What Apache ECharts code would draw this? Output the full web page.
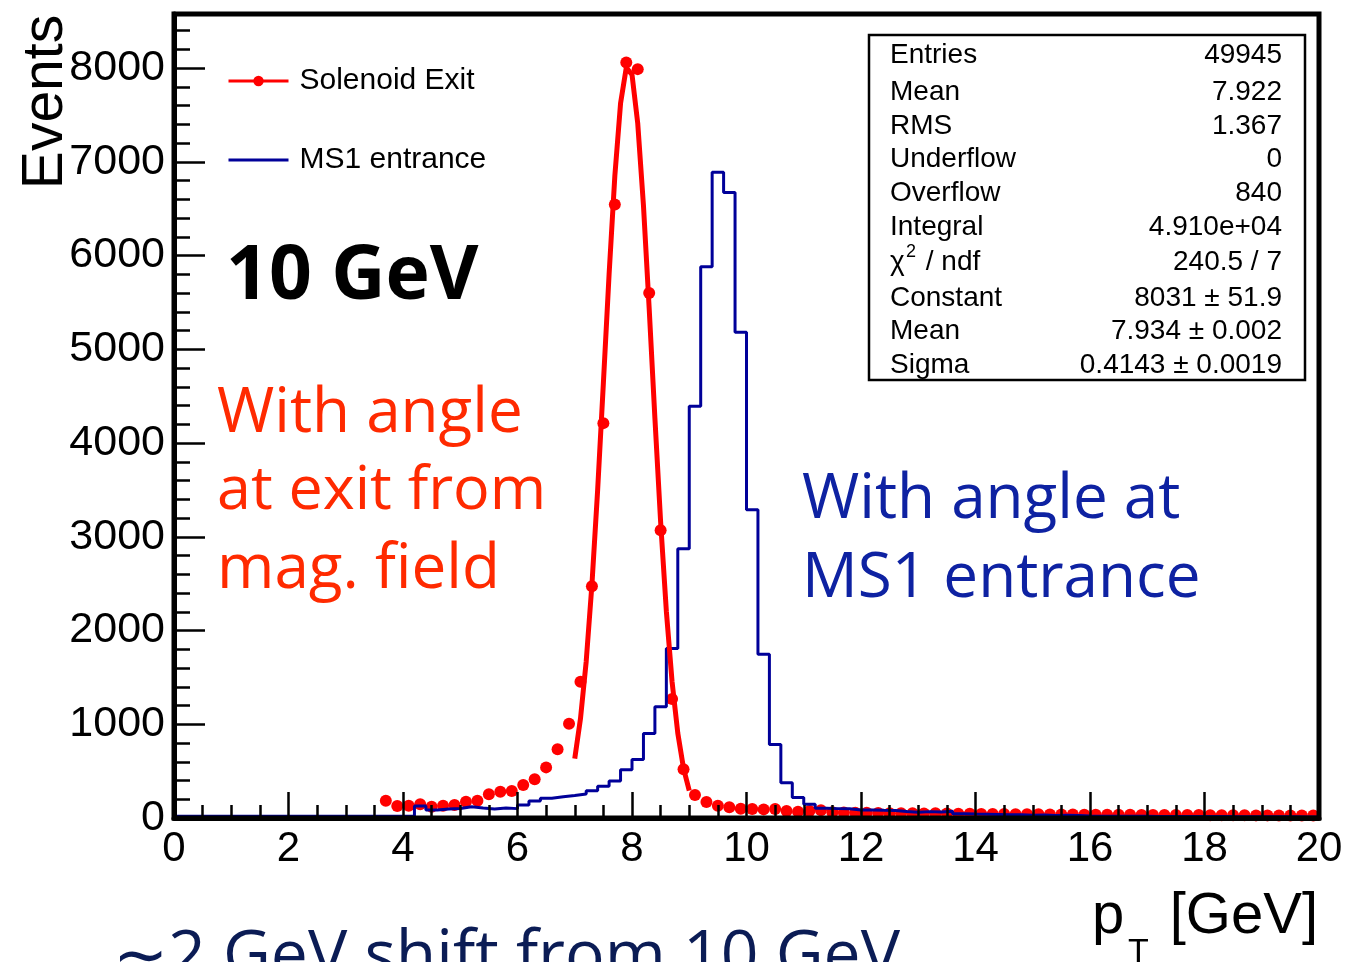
<!DOCTYPE html>
<html><head><meta charset="utf-8">
<script src="https://cdn.jsdelivr.net/npm/echarts@6/dist/echarts.min.js"></script>
<style>html,body{margin:0;padding:0;background:#fff;overflow:hidden}#c{width:1350px;height:962px}</style>
</head><body><div id="c"></div><script>
// ---------------- data ----------------
const binWidth = 0.2;          // GeV
const histMin = 0;             // first bin low edge
// MS1 entrance histogram: counts per 0.2 GeV bin, 0..20 GeV (100 bins)
const ms1Counts = [
  18,18,18,18,18,18,18,18,18,18,   // 0.0-2.0
  18,18,18,18,18,18,18,18,18,18,   // 2.0-4.0
  18,128,85,96,101,120,107,96,107,100, // 4.0-6.0
  139,181,210,227,240,255,290,340,395,515, // 6.0-8.0
  625,902,1186,1808,2873,4393,5879,6887,6673,5182, // 8.0-10.0
  3289,1747,785,376,220,146,105,100,98,85, // 10.0-12.0
  85,82,80,70,62,68,65,72,45,42,   // 12.0-14.0
  40,38,35,35,30,32,28,30,28,22,   // 14.0-16.0
  20,20,18,18,18,17,17,16,16,15,   // 16.0-18.0
  15,15,14,14,14,13,13,13,12,12    // 18.0-20.0
];
// Solenoid exit: data points at bin centres starting at 3.7 GeV
const exitFirstCenter = 3.7;
const exitCounts = [
  184,128,131,146,120,131,139,174,184,253,   // 3.7-5.5
  280,288,352,413,540,733,1005,1453,2472,4212, // 5.7-7.5
  6545,8059,7988,5600,3069,1270,519,245,170,130, // 7.7-9.5
  115,98,95,92,95,75,68,75,82,62,   // 9.7-11.5
  58,56,55,53,52,50,50,48,50,47,    // 11.7-13.5
  45,46,44,42,43,41,40,40,38,38,    // 13.7-15.5
  37,36,36,35,34,34,33,33,32,32,    // 15.7-17.5
  31,31,30,30,29,29,28,28,27,27,    // 17.7-19.5
  26,26                             // 19.7-19.9
];
// Gaussian fit curve, 7.0..9.0 GeV every 0.1
const fitStart = 7.0, fitStep = 0.1;
const fitValues = [633,1059,1670,2490,3499,4639,5802,6847,7622,8004,7930,
                   7411,6535,5437,4265,3159,2206,1454,904,530,293];
const xTickLabels = ['0','2','4','6','8','10','12','14','16','18','20'];
const yTickLabels = ['0','1000','2000','3000','4000','5000','6000','7000','8000'];
const statsLabels = ['Entries','Mean','RMS','Underflow','Overflow','Integral','χ2 / ndf','Constant','Mean','Sigma'];
const statsValues = ['49945','7.922','1.367','0','840','4.910e+04','240.5 / 7','8031 ± 51.9','7.934 ± 0.002','0.4143 ± 0.0019'];

// ---------------- build ----------------
const HELV = '"Liberation Sans", Arial, Helvetica, sans-serif';
const HUM = '"Open Sans", "Noto Sans", sans-serif';
const histData = ms1Counts.map((v, i) => [+(histMin + i * binWidth).toFixed(2), v]);
histData.push([+(histMin + ms1Counts.length * binWidth).toFixed(2), ms1Counts[ms1Counts.length - 1]]);
const exitData = exitCounts.map((v, i) => [+(exitFirstCenter + i * binWidth).toFixed(2), v]);
const fitData = fitValues.map((v, i) => [+(fitStart + i * fitStep).toFixed(2), v]);

const chart = echarts.init(document.getElementById('c'), null, {renderer: 'canvas'});
const isMajorX = v => xTickLabels.indexOf(String(Math.round(v * 1000) / 1000)) >= 0;
const isMajorY = v => yTickLabels.indexOf(String(Math.round(v))) >= 0 && Math.abs(v - Math.round(v)) < 1e-6;

const statsRowY = [55, 92, 126, 159, 193, 227, 262, 298, 331, 365];
const STATS_FONT = '28px ' + HELV;
const statsGraphics = [];
statsGraphics.push({type: 'rect', shape: {x: 869, y: 35, width: 436, height: 345}, style: {fill: '#fff', stroke: '#000', lineWidth: 2.5}, z: 20});
statsLabels.forEach((t, i) => {
  if (t.indexOf('χ2') === 0) {
    statsGraphics.push({type: 'text', x: 890, y: statsRowY[i], z: 21, style: {text: 'χ', font: STATS_FONT, fill: '#000', verticalAlign: 'middle', align: 'left'}});
    statsGraphics.push({type: 'text', x: 906, y: statsRowY[i] - 10, z: 21, style: {text: '2', font: '18px ' + HELV, fill: '#000', verticalAlign: 'middle', align: 'left'}});
    statsGraphics.push({type: 'text', x: 918, y: statsRowY[i], z: 21, style: {text: t.slice(2), font: STATS_FONT, fill: '#000', verticalAlign: 'middle', align: 'left'}});
  } else {
    statsGraphics.push({type: 'text', x: 890, y: statsRowY[i], z: 21, style: {text: t, font: STATS_FONT, fill: '#000', verticalAlign: 'middle', align: 'left'}});
  }
  statsGraphics.push({type: 'text', x: 1282, y: statsRowY[i], z: 21, style: {text: statsValues[i], font: STATS_FONT, fill: '#000', verticalAlign: 'middle', align: 'right'}});
});

const txt = (text, x, y, font, fill, align, extra) => Object.assign({type: 'text', x: x, y: y, z: 30,
  style: {text: text, font: font, fill: fill, align: align || 'left', verticalAlign: 'middle'}}, extra || {});

const RED_TXT = '#ff2a00', BLUE_TXT = '#0e22a2';
const graphics = statsGraphics.concat([
  txt('Events', 46, 102, '57px ' + HELV, '#000', 'center', {rotation: Math.PI / 2}),
  txt('p', 1092, 917, '58px ' + HELV, '#000', 'left'),
  txt('T', 1128, 953, '34px ' + HELV, '#000', 'left'),
  txt('[GeV]', 1318, 917, '58px ' + HELV, '#000', 'right'),
  txt('10 GeV', 226, 278, 'bold 75px ' + HUM, '#000', 'left'),
  txt('With angle', 217, 414, '62px ' + HUM, RED_TXT, 'left'),
  txt('at exit from', 217, 492, '61px ' + HUM, RED_TXT, 'left'),
  txt('mag. field', 217, 570, '62px ' + HUM, RED_TXT, 'left'),
  txt('With angle at', 802, 500, '62px ' + HUM, BLUE_TXT, 'left'),
  txt('MS1 entrance', 802, 579, '62px ' + HUM, BLUE_TXT, 'left'),
  txt('∼2 GeV shift from 10 GeV', 113, 958, '66px ' + HUM, '#0b1c55', 'left')
]);

const yMax = 8576;
const option = {
  animation: false,
  backgroundColor: '#fff',
  grid: {left: 174, right: 31, top: 14, bottom: 144, show: true, borderColor: '#000', borderWidth: 5, backgroundColor: 'transparent', z: 10},
  legend: {
    orient: 'vertical', left: 222, top: 61, itemWidth: 60, itemHeight: 13, itemGap: 49,
    selectedMode: false,
    data: [
      {name: 'Solenoid Exit', lineStyle: {opacity: 1, width: 3, color: '#ff0000'}, itemStyle: {color: '#ff0000'}},
      {name: 'MS1 entrance', itemStyle: {opacity: 0}, lineStyle: {width: 3, color: '#000099'}}
    ],
    textStyle: {fontSize: 30, color: '#000', fontFamily: HELV, padding: [0, 0, 0, 6]}
  },
  xAxis: [
    {type: 'value', min: 0, max: 20, interval: 0.5, position: 'bottom', z: 12,
     axisLine: {show: true, onZero: false, lineStyle: {color: '#000', width: 5}},
     axisTick: {show: true, inside: true, length: 13, lineStyle: {color: '#000', width: 2.5}},
     axisLabel: {fontSize: 42, color: '#000', fontFamily: HELV, margin: 10,
                 formatter: v => isMajorX(v) ? String(Math.round(v)) : ''},
     splitLine: {show: false}},
    {type: 'value', min: 0, max: 20, interval: 2, position: 'bottom', z: 12,
     axisLine: {show: false}, axisLabel: {show: false}, splitLine: {show: false},
     axisTick: {show: true, inside: true, length: 26, lineStyle: {color: '#000', width: 2.5}}}
  ],
  yAxis: [
    {type: 'value', min: 0, max: yMax, interval: 200, position: 'left', z: 12,
     axisLine: {show: true, onZero: false, lineStyle: {color: '#000', width: 5}},
     axisTick: {show: true, inside: true, length: 16, lineStyle: {color: '#000', width: 2.5}},
     axisLabel: {fontSize: 43, color: '#000', fontFamily: HELV, margin: 9, showMaxLabel: false,
                 formatter: v => (isMajorY(v) && v <= 8000) ? String(Math.round(v)) : ''},
     splitLine: {show: false}},
    {type: 'value', min: 0, max: yMax, interval: 1000, position: 'left', z: 12,
     axisLine: {show: false}, axisLabel: {show: false}, splitLine: {show: false},
     axisTick: {show: true, inside: true, length: 31, lineStyle: {color: '#000', width: 2.5}}}
  ],
  series: [
    {name: 'Solenoid Exit', type: 'line', xAxisIndex: 0, yAxisIndex: 0, data: exitData,
     symbol: 'circle', symbolSize: 12, itemStyle: {color: '#ff0000'},
     lineStyle: {opacity: 0, color: '#ff0000'}, z: 2, silent: true},
    {name: 'MS1 entrance', type: 'line', step: 'end', xAxisIndex: 0, yAxisIndex: 0, data: histData,
     symbol: 'none', lineStyle: {color: '#000099', width: 3}, itemStyle: {color: '#000099'}, z: 3, silent: true},
    {name: 'Gaussian fit', type: 'line', xAxisIndex: 0, yAxisIndex: 0, data: fitData,
     symbol: 'none', lineStyle: {color: '#ff0000', width: 5}, itemStyle: {color: '#ff0000'}, z: 4, silent: true}
  ],
  graphic: graphics
};
chart.setOption(option);
</script></body></html>
